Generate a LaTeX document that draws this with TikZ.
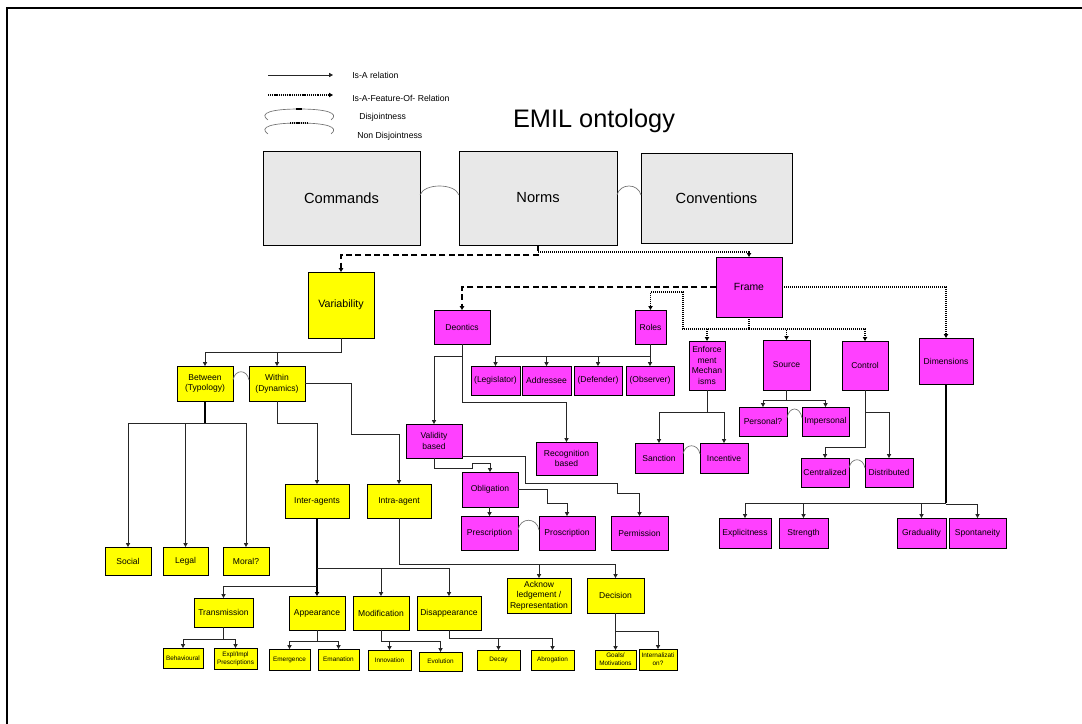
\documentclass[tikz,border=0pt]{standalone}
\usepackage{fontspec}
\setmainfont{Liberation Sans}
\usetikzlibrary{arrows.meta}
\definecolor{mag}{RGB}{255,64,255}
\definecolor{yel}{RGB}{255,255,0}
\definecolor{gbox}{RGB}{232,232,232}
\newcommand\bnode[7]{\node[#1, minimum width={(#5-#3)*0.75pt}, minimum height={(#6-#4)*0.75pt}] (#2) at ({(#3+#5)/2},{(#4+#6)/2}) {#7};}
\begin{document}
\begin{tikzpicture}[x=0.75pt,y=-0.75pt,
  base/.style={draw=black, line width=0.7pt, inner sep=0pt, outer sep=0pt, align=center, text=black,
    preaction={fill=black!50, transform canvas={xshift=0.9pt,yshift=-0.9pt}}},
  gbig/.style={base, fill=gbox, font=\fontsize{11}{13}\selectfont},
  yvar/.style={base, fill=yel, font=\fontsize{8}{10}\selectfont},
  mframe/.style={base, fill=mag, font=\fontsize{7.8}{9.5}\selectfont},
  mbox/.style={base, fill=mag, font=\fontsize{6.4}{8}\selectfont},
  ybox/.style={base, fill=yel, font=\fontsize{6.4}{8}\selectfont},
  ysmall/.style={base, fill=yel, font=\fontsize{4.8}{5.8}\selectfont},
  legend/.style={inner sep=0pt, font=\fontsize{6.5}{8}\selectfont},
  line/.style={line width=0.6pt, draw=black!85},
  lineT/.style={line width=1.1pt, draw=black},
  isa/.style={line, -{Triangle[length=3pt,width=3.2pt]}},
  isaT/.style={lineT, -{Triangle[length=3pt,width=3.2pt]}},
  fdash/.style={line width=1.4pt, dash pattern=on 4.5pt off 2.5pt, -{Triangle[length=3pt,width=3.4pt]}},
  fdot/.style={line width=1pt, dash pattern=on 0.9pt off 0.6pt, -{Triangle[length=3pt,width=3.2pt]}},
  disj/.style={draw=black!55, line width=0.5pt}
]
\useasboundingbox (0,0) rectangle (1082,724);
\clip (0,0) rectangle (1082,724);
\draw[line width=1.6pt] (7,740) -- (7,8) -- (1090,8);

% legend
\coordinate (l1a) at (268,75); \coordinate (l1b) at (333,75);
\draw[isa] (l1a) -- (l1b);
\node[legend, anchor=west] (l1t) at (352,75) {Is-A relation};
\coordinate (l2a) at (268,95); \coordinate (l2b) at (333,95);
\draw[line width=0.8pt, dash pattern=on 0.8pt off 0.6pt, -{Triangle[length=3pt,width=3.2pt]}] (l2a) -- (l2b);
\node[legend, anchor=west] (l2t) at (352,98) {Is-A-Feature-Of- Relation};
\draw[disj] (268,120) .. controls (258,113) and (272,109) .. (299,109) .. controls (326,109) and (340,113) .. (331,120);
\draw[line width=1pt] (296,109) -- (302,109);
\node[legend, anchor=west] (l3t) at (359,117) {Disjointness};
\draw[disj] (268,134) .. controls (258,127) and (272,123) .. (299,123) .. controls (326,123) and (340,127) .. (331,134);
\draw[line width=0.9pt, dash pattern=on 0.8pt off 0.6pt] (290,123) -- (308,123);
\node[legend, anchor=west] (l4t) at (357,136) {Non Disjointness};

\node[font=\fontsize{19}{22}\selectfont, inner sep=0pt] (title) at (594,121) {EMIL ontology};

% nodes
\bnode{gbig}{cmd}{263}{151}{420}{245}{Commands}
\bnode{gbig}{norms}{459}{151}{617}{245}{Norms}
\bnode{gbig}{conv}{641}{153}{792}{243}{Conventions}
\bnode{yvar}{var}{308}{272}{374}{338}{Variability}
\bnode{mframe}{frame}{716}{257}{782}{317}{Frame}
\bnode{mbox}{deon}{434}{310}{490}{344}{Deontics}
\bnode{mbox}{roles}{635}{310}{666}{344}{Roles}
\bnode{mbox}{legis}{471}{366}{520}{395}{(Legislator)}
\bnode{mbox}{addr}{522}{366}{571}{395}{Addressee}
\bnode{mbox}{defe}{574}{366}{622}{395}{(Defender)}
\bnode{mbox}{obs}{626}{366}{674}{395}{(Observer)}
\bnode{mbox}{enf}{689}{341}{725}{390}{Enforce\\ment\\Mechan\\isms}
\bnode{mbox}{src}{763}{340}{810}{390}{Source}
\bnode{mbox}{ctrl}{842}{341}{888}{390}{Control}
\bnode{mbox}{dims}{919}{338}{973}{384}{Dimensions}
\bnode{mbox}{pers}{739}{407}{787}{436}{Personal?}
\bnode{mbox}{impers}{802}{407}{849}{436}{Impersonal}
\bnode{mbox}{sanc}{635}{443}{683}{473}{Sanction}
\bnode{mbox}{incent}{700}{443}{748}{473}{Incentive}
\bnode{mbox}{centr}{801}{458}{849}{487}{Centralized}
\bnode{mbox}{distr}{865}{458}{913}{487}{Distributed}
\bnode{mbox}{expl}{719}{518}{771}{548}{Explicitness}
\bnode{mbox}{stren}{779}{518}{828}{548}{Strength}
\bnode{mbox}{grad}{897}{518}{946}{548}{Graduality}
\bnode{mbox}{spont}{949}{518}{1006}{548}{Spontaneity}
\bnode{mbox}{valid}{406}{424}{462}{458}{Validity\\based}
\bnode{mbox}{recog}{536}{442}{597}{475}{Recognition\\based}
\bnode{mbox}{oblig}{462}{472}{518}{507}{Obligation}
\bnode{mbox}{presc}{461}{516}{518}{550}{Prescription}
\bnode{mbox}{prosc}{539}{516}{595}{550}{Proscription}
\bnode{mbox}{perm}{611}{516}{668}{550}{Permission}
\bnode{ybox}{betw}{177}{366}{233}{401}{Between\\(Typology)}
\bnode{ybox}{with}{249}{366}{305}{401}{Within\\(Dynamics)}
\bnode{ybox}{soc}{105}{547}{151}{575}{Social}
\bnode{ybox}{legal}{163}{547}{208}{575}{Legal}
\bnode{ybox}{moral}{223}{547}{269}{575}{Moral?}
\bnode{ybox}{inter}{285}{484}{349}{518}{Inter-agents}
\bnode{ybox}{intra}{367}{484}{431}{518}{Intra-agent}
\bnode{ybox}{trans}{194}{598}{253}{627}{Transmission}
\bnode{ybox}{appear}{289}{596}{345}{630}{Appearance}
\bnode{ybox}{modif}{353}{596}{409}{630}{Modification}
\bnode{ybox}{disap}{417}{596}{481}{630}{Disappearance}
\bnode{ybox}{ack}{507}{578}{571}{613}{Acknow\\ledgement /\\Representation}
\bnode{ybox}{deci}{587}{578}{644}{613}{Decision}
\bnode{ysmall}{behav}{163}{648}{203}{668}{Behavioural}
\bnode{ysmall}{explimpl}{214}{648}{257}{669}{Expl/Impl\\Prescriptions}
\bnode{ysmall}{emerg}{269}{649}{310}{670}{Emergence}
\bnode{ysmall}{eman}{318}{649}{359}{670}{Emanation}
\bnode{ysmall}{innov}{368}{650}{411}{670}{Innovation}
\bnode{ysmall}{evol}{419}{652}{462}{671}{Evolution}
\bnode{ysmall}{decay}{477}{650}{520}{670}{Decay}
\bnode{ysmall}{abrog}{531}{650}{574}{670}{Abrogation}
\bnode{ysmall}{goals}{595}{650}{636}{669}{Goals/\\Motivations}
\bnode{ysmall}{intern}{639}{649}{677}{670}{Internalizati\\on?}

% disjointness arcs
\draw[disj] (cmd.east |- 0,195) .. controls (424,183) and (455,183) .. (norms.west |- 0,195);
\draw[disj] (norms.east |- 0,195) .. controls (620,183) and (638,183) .. (conv.west |- 0,195);
\draw[disj] (betw.east |- 0,380) .. controls (235,369) and (247,369) .. (with.west |- 0,380);
\draw[disj] (pers.east |- 0,418) .. controls (789,406) and (800,406) .. (impers.west |- 0,418);
\draw[disj] (sanc.east |- 0,454) .. controls (685,443) and (698,443) .. (incent.west |- 0,454);
\draw[disj] (centr.east |- 0,468) .. controls (851,457) and (863,457) .. (distr.west |- 0,468);
\draw[disj] (presc.east |- 0,530) .. controls (520,517) and (537,517) .. (prosc.west |- 0,530);

% feature-of relations
\draw[fdash] (norms.south) -- ++(0,10) -| (var.north);
\draw[fdot] (norms.south) ++(0,7) -| (frame.north);
\draw[fdash] (frame.west) -| (deon.north);
\draw[fdot] (frame.south) -- ++(0,12) -| (683,292) -| (roles.north);
\draw[fdot] (frame.south) ++(0,12) -| (enf.north);
\draw[fdot] (frame.south) ++(0,12) -| (src.north);
\draw[fdot] (frame.south) ++(0,12) -| (ctrl.north);
\draw[fdot] (frame.east) -| (dims.north);

% is-a: frame side
\draw[isa] (roles.south) -- ++(0,12) -| (legis.north);
\draw[isa] (roles.south) ++(0,12) -| (addr.north);
\draw[isa] (roles.south) ++(0,12) -| (defe.north);
\draw[isa] (roles.south) ++(0,12) -| (obs.north);
\draw[isa] (deon.south) -- ++(0,12) -| (valid.north);
\draw[isa] (deon.south) ++(0,12) |- (recog.north |- 0,402) -- (recog.north);
\draw[isa] (valid.south) -- ++(0,10) -| (472,463) -| (oblig.north);
\draw[isa] (valid.east |- 0,456) -| (525,483) -| (617,493) -| (perm.north);
\draw[isa] (presc.north |- oblig.south) -- (presc.north);
\draw[isa] (oblig.east) -| (547,503) -| (prosc.north);
\draw[isa] (enf.south) -- ++(0,22) -| (sanc.north);
\draw[isa] (enf.south) ++(0,22) -| (incent.north);
\draw[isa] (src.south) -- ++(0,10) -| (pers.north);
\draw[isa] (src.south) ++(0,10) -| (impers.north);
\draw[isa] (ctrl.south) -- ++(0,57) -| (centr.north);
\draw[isa] (ctrl.south) ++(0,22) -| (distr.north);
\draw[lineT] (dims.south) -- ++(0,119);
\draw[isa] (dims.south) ++(0,119) -| (expl.north);
\draw[isa] (stren.north |- 0,503) -- (stren.north);
\draw[isa] (grad.north |- 0,503) -- (grad.north);
\draw[isa] (dims.south) ++(0,120) -| (spont.north);

% is-a: variability side
\draw[isa] (var.south) -- ++(0,14) -| (betw.north);
\draw[isa] (var.south) ++(0,14) -| (with.north);
\draw[lineT] (betw.south) -- ++(0,22);
\draw[isa] (betw.south) ++(0,22) -| (soc.north);
\draw[isa] (betw.south) ++(0,22) -| (legal.north);
\draw[isa] (betw.south) ++(0,22) -| (moral.north);
\draw[isa] (with.south) -- ++(0,22) -| (inter.north);
\draw[isa] (with.east |- 0,383) -| (351,434) -| (intra.north);
\draw[isaT] (inter.south) -- (appear.north);
\draw[isa] (inter.south |- 0,568) -| (disap.north);
\draw[isa] (modif.north |- 0,568) -- (modif.north);
\draw[isa] (inter.south |- 0,586) -| (trans.north);
\draw[isa] (intra.south) |- (deci.north |- 0,564) -- (deci.north);
\draw[isa] (ack.north |- 0,564) -- (ack.north);
\draw[isa] (trans.south) -- ++(0,12) -| (behav.north);
\draw[isa] (trans.south) ++(0,12) -| (explimpl.north);
\draw[isa] (appear.south) -- ++(0,11) -| (emerg.north);
\draw[isa] (appear.south) ++(0,11) -| (eman.north);
\draw[isa] (modif.south) -- ++(0,11) -| (evol.north);
\draw[isa] (innov.north |- 0,641) -- (innov.north);
\draw[isa] (disap.south) -- ++(0,8) -| (abrog.north);
\draw[isa] (decay.north |- 0,638) -- (decay.north);
\draw[isa] (deci.south) -- (goals.north);
\draw[isa] (deci.south) ++(0,18) -| (intern.north);
\end{tikzpicture}
\end{document}
